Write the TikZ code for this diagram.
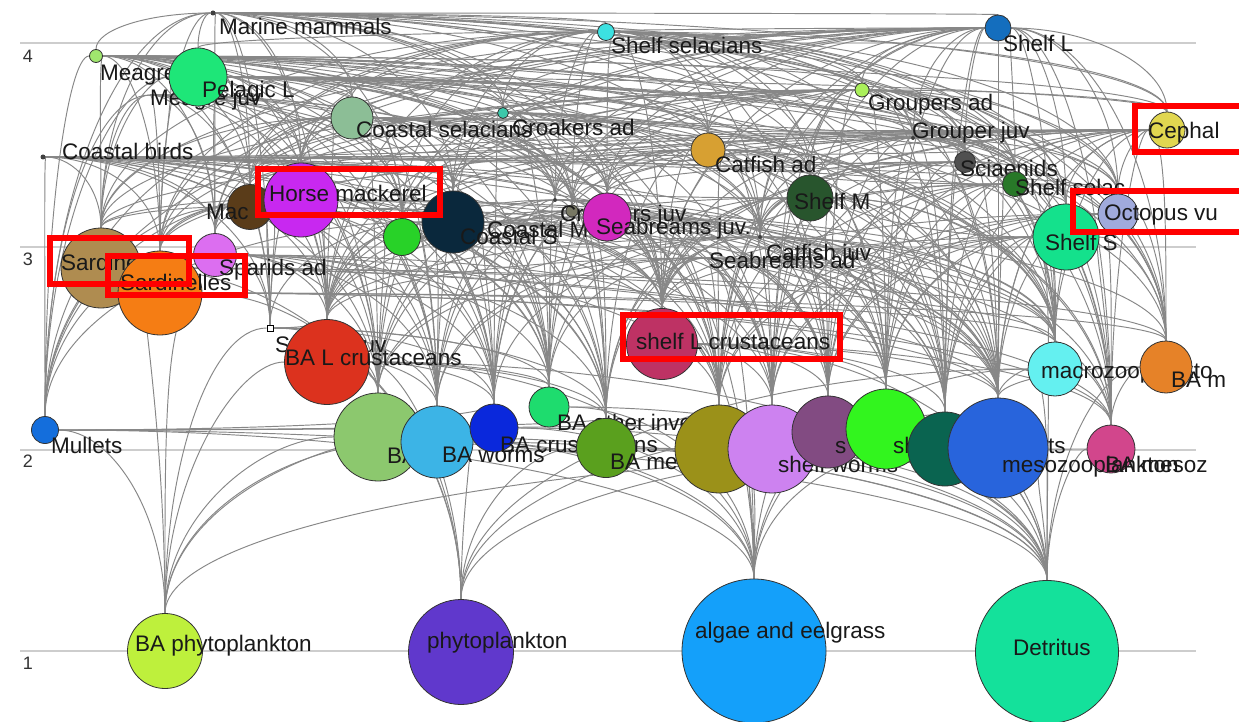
\documentclass[tikz,border=0pt]{standalone}
\usepackage{fontspec}
\setmainfont{Liberation Sans}
\usetikzlibrary{backgrounds,calc}
\definecolor{edgegray}{RGB}{135,135,135}
\definecolor{gridgray}{RGB}{205,205,205}
\definecolor{cSsel}{RGB}{60,225,225}
\definecolor{cShL}{RGB}{20,110,190}
\definecolor{cMeag}{RGB}{160,230,110}
\definecolor{cPel}{RGB}{30,230,120}
\definecolor{cCsel}{RGB}{140,190,150}
\definecolor{cCrad}{RGB}{60,200,170}
\definecolor{cGrad}{RGB}{170,240,90}
\definecolor{cCeph}{RGB}{225,215,80}
\definecolor{cCfad}{RGB}{215,160,50}
\definecolor{cSci}{RGB}{80,80,80}
\definecolor{cShsel}{RGB}{40,120,40}
\definecolor{cOct}{RGB}{160,170,220}
\definecolor{cShS}{RGB}{20,225,140}
\definecolor{cShM}{RGB}{40,85,45}
\definecolor{cMac}{RGB}{90,60,25}
\definecolor{cHm}{RGB}{200,40,240}
\definecolor{cCS}{RGB}{10,40,60}
\definecolor{cGr}{RGB}{40,210,40}
\definecolor{cCrj}{RGB}{120,120,100}
\definecolor{cSbj}{RGB}{210,40,190}
\definecolor{cSard}{RGB}{175,140,80}
\definecolor{cSardl}{RGB}{245,125,20}
\definecolor{cSpad}{RGB}{220,110,240}
\definecolor{cBal}{RGB}{220,50,30}
\definecolor{cShl}{RGB}{190,50,100}
\definecolor{cMz}{RGB}{100,240,240}
\definecolor{cBamz}{RGB}{230,130,40}
\definecolor{cMul}{RGB}{20,110,220}
\definecolor{cBab}{RGB}{140,200,110}
\definecolor{cBaw}{RGB}{60,180,230}
\definecolor{cBac}{RGB}{10,40,220}
\definecolor{cBao}{RGB}{30,220,110}
\definecolor{cBame}{RGB}{90,160,30}
\definecolor{cOlive}{RGB}{155,145,25}
\definecolor{cShw}{RGB}{205,130,240}
\definecolor{cPur}{RGB}{130,75,130}
\definecolor{cBg}{RGB}{50,245,30}
\definecolor{cDt}{RGB}{10,100,80}
\definecolor{cMes}{RGB}{40,100,220}
\definecolor{cBames}{RGB}{210,70,140}
\definecolor{cBaph}{RGB}{190,240,60}
\definecolor{cPh}{RGB}{96,56,204}
\definecolor{cAlg}{RGB}{20,160,250}
\definecolor{cDet}{RGB}{20,225,155}
\begin{document}
\begin{tikzpicture}[x=1pt,y=-1pt,
  nd/.style={circle,draw=black!80,line width=0.8pt,inner sep=0pt,minimum size=#1pt},
  smalldot/.style={circle,fill=black!75,inner sep=0pt,minimum size=#1pt},
  lbl/.style={anchor=base west,inner sep=0pt,font=\fontsize{22.5}{22.5}\selectfont,text=black!90},
  lev/.style={anchor=base,inner sep=0pt,font=\fontsize{18}{18}\selectfont,text=black!80},
  lnk/.style={draw=edgegray,line width=0.95pt},
  hl/.style={draw=red,line width=6pt}]
\useasboundingbox (0,0) rectangle (1239,722);
% level numbers
\node[lev] (l4) at (28,63) {4};
\node[lev] (l3) at (28,265) {3};
\node[lev] (l2) at (28,467) {2};
\node[lev] (l1) at (28,669) {1};
% top nodes
\node[smalldot=5] (mm) at (213,13) {};
\node[lbl] (Lmm) at (219,35) {Marine mammals};
\node[nd=17,fill=cSsel] (ssel) at (606,32) {};
\node[lbl] (Lssel) at (611,54) {Shelf selacians};
\node[nd=26,fill=cShL] (shL) at (998,28) {};
\node[lbl] (LshL) at (1003,52) {Shelf L};
\node[nd=13,fill=cMeag] (meag) at (96,56) {};
\node[lbl] (Lmeag) at (100,81) {Meagre};
\coordinate (meagj) at (150,95);
\node[lbl] (Lmeagj) at (150,106) {Meagre juv};
\node[nd=58,fill=cPel] (pel) at (198,77) {};
\node[lbl] (Lpel) at (202,98) {Pelagic L};
\node[nd=42,fill=cCsel] (csel) at (352,118) {};
\node[lbl] (Lcsel) at (356,138) {Coastal selacians};
\node[nd=11,fill=cCrad] (crad) at (503,113) {};
\node[lbl] (Lcrad) at (512,136) {Croakers ad};
\node[nd=14,fill=cGrad] (grad) at (862,90) {};
\node[lbl] (Lgrad) at (868,111) {Groupers ad};
\node[smalldot=4] (grj) at (913,138) {};
\node[lbl] (Lgrj) at (912,139) {Grouper juv};
\node[smalldot=5] (cb) at (43,157) {};
\node[lbl] (Lcb) at (62,160) {Coastal birds};
\node[nd=34,fill=cCfad] (cfad) at (708,150) {};
\node[lbl] (Lcfad) at (715,173) {Catfish ad};
\node[nd=21,fill=cSci] (sci) at (965,162) {};
\node[lbl] (Lsci) at (960,177) {Sciaenids};
\node[nd=25,fill=cShsel] (shsel) at (1015,184) {};
\node[lbl] (Lshsel) at (1015,196) {Shelf selac};
\node[nd=66,fill=cShS] (shS) at (1066,237) {};
\node[lbl] (LshS) at (1045,250) {Shelf S};
\node[nd=40,fill=cOct] (oct) at (1118,214) {};
\node[lbl] (Loct) at (1104,221) {Octopus vu};
\node[nd=36,fill=cCeph] (ceph) at (1167,130) {};
\node[lbl] (Lceph) at (1148,139) {Cephal};
\node[nd=46,fill=cShM] (shM) at (810,198) {};
\node[lbl] (LshM) at (794,210) {Shelf M};
% middle nodes
\node[nd=45,fill=cMac] (mac) at (250,207) {};
\node[lbl] (Lmac) at (206,219) {Mac};
\node[nd=74,fill=cHm] (hm) at (301,200) {};
\node[lbl] (Lhm) at (269,202) {Horse mackerel};
\node[nd=37,fill=cGr] (gr) at (402,237) {};
\node[nd=62,fill=cCS] (cS) at (453,222) {};
\node[lbl] (LcS) at (460,244) {Coastal S};
\node[smalldot=4] (cM) at (555,200) {};
\node[lbl] (LcM) at (487,237) {Coastal M};
\node[nd=12,fill=cCrj] (crj) at (572,211) {};
\node[lbl] (Lcrj) at (560,222) {Croakers juv};
\node[nd=48,fill=cSbj] (sbj) at (607,217) {};
\node[lbl] (Lsbj) at (596,234) {Seabreams juv.};
\node[smalldot=4] (cfj) at (760,237) {};
\node[lbl] (Lcfj) at (766,260) {Catfish juv};
\coordinate (sbad) at (706,258);
\node[lbl] (Lsbad) at (709,268) {Seabreams ad};
\node[nd=80,fill=cSard] (sard) at (101,268) {};
\node[lbl] (Lsard) at (61,270) {Sardines};
\node[nd=84,fill=cSardl] (sardl) at (160,293) {};
\node[lbl] (Lsardl) at (120,290) {Sardinelles};
\node[nd=43,fill=cSpad] (spad) at (215,255) {};
\node[lbl] (Lspad) at (219,275) {Sparids ad};
\node[rectangle,draw=black,fill=white,line width=0.8pt,inner sep=0pt,minimum size=6pt] (spj) at (270,328) {};
\node[lbl] (Lspj) at (275,352) {Sparids juv};
\node[nd=85,fill=cBal] (bal) at (327,362) {};
\node[lbl] (Lbal) at (285,365) {BA L crustaceans};
\node[nd=71,fill=cShl] (shl) at (662,344) {};
\node[lbl] (Lshl) at (636,349) {shelf L crustaceans};
\node[nd=54,fill=cMz] (mz) at (1055,369) {};
\node[lbl] (Lmz) at (1041,378) {macrozooplankto};
\node[nd=52,fill=cBamz] (bamz) at (1166,367) {};
\node[lbl] (Lbamz) at (1171,387) {BA m};
% level 2 nodes
\node[nd=27,fill=cMul] (mul) at (45,430) {};
\node[lbl] (Lmul) at (51,453) {Mullets};
\node[nd=88,fill=cBab] (bab) at (378,437) {};
\node[lbl] (Lbab) at (387,463) {BA};
\node[nd=72,fill=cBaw] (baw) at (437,442) {};
\node[lbl] (Lbaw) at (442,462) {BA worms};
\node[nd=48,fill=cBac] (bac) at (494,428) {};
\node[lbl] (Lbac) at (500,452) {BA crustaceans};
\node[nd=40,fill=cBao] (bao) at (549,407) {};
\node[lbl] (Lbao) at (557,430) {BA other inve};
\node[nd=59,fill=cBame] (bame) at (606,448) {};
\node[lbl] (Lbame) at (610,469) {BA me};
\node[nd=88,fill=cOlive] (olive) at (719,449) {};
\node[nd=88,fill=cShw] (shw) at (772,449) {};
\node[lbl] (Lshw) at (778,472) {shelf worms};
\node[nd=72,fill=cPur] (pur) at (828,432) {};
\node[lbl] (Lpur) at (835,453) {s};
\node[nd=80,fill=cBg] (bg) at (886,429) {};
\node[lbl] (Lbg) at (893,453) {sh};
\node[nd=74,fill=cDt] (dt) at (945,449) {};
\node[nd=100,fill=cMes] (mes) at (998,448) {};
\node[lbl] (Lts) at (1048,453) {ts};
\node[nd=48,fill=cBames] (bames) at (1111,449) {};
\node[lbl] (Lmes) at (1002,472) {mesozooplankton};
\node[lbl] (Lbames) at (1105,472) {BA mesoz};
% producers
\node[nd=75,fill=cBaph] (baph) at (165,651) {};
\node[lbl] (Lbaph) at (135,651) {BA phytoplankton};
\node[nd=105,fill=cPh] (ph) at (461,652) {};
\node[lbl] (Lph) at (427,648) {phytoplankton};
\node[nd=144,fill=cAlg] (alg) at (754,651) {};
\node[lbl] (Lalg) at (695,638) {algae and eelgrass};
\node[nd=143,fill=cDet] (det) at (1047,652) {};
\node[lbl] (Ldet) at (1013,655) {Detritus};
% highlight boxes
\draw[hl] (258,169) rectangle (440,215);
\draw[hl] (50,238) rectangle (189,284);
\draw[hl] (108,256) rectangle (245,295);
\draw[hl] (623,315) rectangle (840,359);
\draw[hl] (1135,106) rectangle (1250,152);
\draw[hl] (1073,191) rectangle (1250,232);
\begin{pgfonlayer}{background}
\fill[white] (0,0) rectangle (1239,722);
\foreach \yy in {43,247,450,651} {\draw[gridgray,line width=1.2pt] (20,\yy) -- (1196,\yy);}
\foreach \p/\qs in {
mm/{sard,sardl,hm,mac,pel,mul,cS,spad,csel,meag,shS,oct,ceph,cfad,sbj,gr,cM,crj,cfj,spj,bal,shl,mz,bamz,shM,sci,grj,crad,shsel,grad,ssel,shL},
shL/{shS,shM,oct,ceph,sci,shsel,cfad,grad,sbj,cfj,hm,sard,sardl,shl,mz,bamz,pel,crad,grj,cS,spad,mac,gr,crj,cM,bal,olive,shw,bg,mes,bames,dt,csel},
ssel/{shS,shM,oct,ceph,shl,sbj,cfad,cfj,hm,sard,bal,crad,crj,sci,mac,sardl,shsel,grj,mz,bamz,bames,mes,dt,bg,pur,cS,gr,spad,cM},
meag/{sard,sardl,mul,hm,mac,cS,cM,spad,spj,bal,sbj,crj,cfj,gr,shl,cfad,shM,shS,mz,bab,baw,bac,bao,csel,crad,grad,sci,shsel,oct,ceph},
pel/{sard,sardl,hm,mac,mul,spad,cS,sbj,oct,ceph,shS,shl,mz,bamz,cfj,crj,cM,bal,mes,gr,cfad,shM,csel,crad,sci,shsel,grj},
meagj/{sardl,sard,mul,bal,spj,spad,bab,baw,bac,gr,bao,bame,shl,cM,crj,olive},
grad/{shS,oct,ceph,shM,sci,shsel,sbj,cfj,shl,mz,bamz,hm,cfad,grj,bal,crj,cM,mes,bames,dt,bg,shw,pur,sard,sardl,cS,gr,spad,mac},
csel/{mul,sard,sardl,bal,shl,bab,baw,bac,cS,cM,spad,spj,gr,crj,sbj,hm,mac,bao,bame,olive,shw,cfj,cfad,shM,sci,shsel},
crad/{bal,shl,bab,baw,bac,bao,bame,shw,pur,olive,mz,mul,dt,bg,mes,bames},
grj/{shl,shw,bg,dt,mes,bames,mz,bamz,oct,shsel,sci,cfj,pur,olive},
ceph/{bamz,mz,bames,shl,shS,oct,shsel,sci,shM,sbj,cfj,mes,dt,sard,hm,sardl,mac,cfad,bg,pur,shw,cS,gr,spad,crj,cM},
cb/{mul,sard,sardl,hm,mac,spj,spad,bal,cS,cM,gr,sbj,crj,shl,cfj,olive,mes,shS,bab,baw,bac,bao,bame,cfad,sci,shsel,oct,shM},
cfad/{shl,bal,shw,pur,bg,dt,olive,mes,bao,bame,bac,mz,sbj,cfj,crj,cM,shM},
sci/{shl,shw,pur,bg,dt,mes,bames,mz,bamz,olive,cfj,sbj,shM},
shsel/{shl,shw,bg,dt,mes,bames,mz,bamz,shS,oct,cfj,shM,pur,olive},
oct/{shl,bamz,bames,mz,mes,dt,bg,shw,pur,olive},
shS/{shl,mz,bamz,mes,bames,dt,bg,det,shw,pur,olive,shM},
shM/{shl,shw,pur,bg,dt,mes,mz,olive,bames,bal,cfj,sbj,bao,bame},
hm/{mes,mz,bal,shl,sard,sardl,bao,bac,bamz,bab,baw,bame,mul,spj},
mac/{mes,mz,bal,sard,sardl,baw,bac,bab,bao,bame,spj,mul},
cS/{bal,shl,bab,baw,bac,bao,bame,olive,mul,spj,shw,pur,bg,crj,cM},
cM/{bal,shl,bab,baw,bac,bao,bame,olive,shw,pur,bg,dt,mes},
crj/{bal,bab,baw,bac,bao,bame,olive,shw,mes,pur,bg},
sbj/{bal,shl,bab,baw,bac,bao,bame,olive,shw,pur,bg,dt,alg,mes,mz},
cfj/{shl,bal,bab,baw,bac,bame,olive,shw,pur,bg,dt,mes,mz,bames},
sbad/{shl,bal,bab,baw,bao,bame,olive,shw,pur,bg,dt,alg,mes,mz,bames},
gr/{bal,bab,baw,bac,bao,bame,mes,olive,shw},
spad/{bal,bab,baw,bac,bao,bame,olive,shl,mul,spj},
spj/{bal,bab,baw,bac,bame,baph,bao},
sard/{ph,baph,mes,mz,bamz,bames},
sardl/{ph,baph,mes,mz,bames,bamz},
mul/{det,alg,baph,bac,bame,dt},
bal/{det,alg,bab,baw,bac,bao,bame,baph,ph},
shl/{det,alg,shw,pur,bg,dt,mes,olive,bames},
mz/{det,mes,ph,bames,alg},
bamz/{det,bames,mes},
bab/{det,baph,ph,alg},
baw/{det,baph,alg},
bac/{det,baph,ph,alg},
bao/{det,alg},
bame/{det,ph},
olive/{alg,det},
shw/{det,alg},
pur/{det,alg},
bg/{det,alg,ph},
dt/{det,alg},
mes/{ph,det},
bames/{baph,det}}
{\foreach \q in \qs {
  \coordinate (cc) at (\p -| \q.north);
  \draw[lnk] (\p) .. controls ($(\p)!0.55!(cc)$) and ($(\q.north)!0.55!(cc)$) .. (\q.north);}}
\end{pgfonlayer}
\end{tikzpicture}
\end{document}
